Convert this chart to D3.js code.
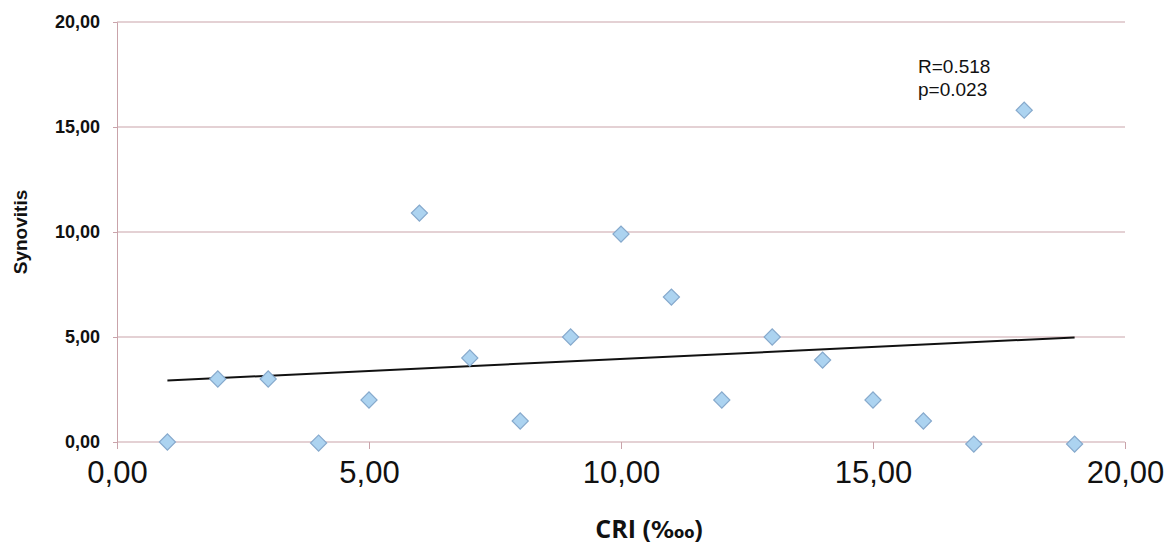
<!DOCTYPE html>
<html lang="en">
<head>
<meta charset="UTF-8">
<title>Synovitis vs CRI</title>
<script src="https://d3js.org/d3.v7.min.js"></script>
<style>
  body { margin: 0; background: #fff; }
  text { font-family: "Liberation Sans", Arial, sans-serif; }
</style>
</head>
<body>
<script>
  // data
  const cri = [1, 2, 3, 4, 5, 6, 7, 8, 9, 10, 11, 12, 13, 14, 15, 16, 17, 18, 19];
  const synovitis = [0, 3.0, 3.0, -0.05, 2.0, 10.9, 4.0, 1.0, 5.0, 9.9, 6.9, 2.0, 5.0, 3.9, 2.0, 1.0, -0.1, 15.8, -0.1];
  const xTicks = [0, 5, 10, 15, 20];
  const yTicks = [0, 5, 10, 15, 20];
  const stats = ["R=0.518", "p=0.023"];

  const width = 1173, height = 550;
  const fmt = d => d3.format(".2f")(d).replace(".", ",");

  const x = d3.scaleLinear().domain([0, 20]).range([117, 1125]);
  const y = d3.scaleLinear().domain([0, 20]).range([442, 22]);

  const svg = d3.select("body").append("svg")
    .attr("width", width).attr("height", height);

  const gridColor = "#c9a3aa";

  // horizontal gridlines + y axis
  const yAxis = svg.append("g")
    .attr("transform", `translate(${x(0)},0)`)
    .call(d3.axisLeft(y).tickValues(yTicks).tickFormat(fmt).tickSize(4).tickPadding(13));
  yAxis.select(".domain").attr("stroke", gridColor);
  yAxis.selectAll(".tick line").attr("stroke", gridColor);
  yAxis.selectAll(".tick text")
    .attr("font-size", 18).attr("font-weight", "bold").attr("fill", "#111");

  svg.append("g").selectAll("line")
    .data(yTicks)
    .join("line")
    .attr("x1", x(0)).attr("x2", x(20))
    .attr("y1", d => y(d)).attr("y2", d => y(d))
    .attr("stroke", gridColor).attr("stroke-width", 1.2);

  // x axis
  const xAxis = svg.append("g")
    .attr("transform", `translate(0,${y(0)})`)
    .call(d3.axisBottom(x).tickValues(xTicks).tickFormat(fmt).tickSize(7).tickPadding(12));
  xAxis.select(".domain").remove();
  xAxis.selectAll(".tick line").attr("stroke", gridColor);
  xAxis.selectAll(".tick text")
    .attr("font-size", 31).attr("fill", "#111");

  // least squares trend line
  const mx = d3.mean(cri), my = d3.mean(synovitis);
  const slope = d3.sum(cri, (d, i) => (d - mx) * (synovitis[i] - my)) / d3.sum(cri, d => (d - mx) * (d - mx));
  const x0 = d3.min(cri), x1 = d3.max(cri);
  svg.append("line")
    .attr("x1", x(x0)).attr("y1", y(my + slope * (x0 - mx)))
    .attr("x2", x(x1)).attr("y2", y(my + slope * (x1 - mx)))
    .attr("stroke", "#111").attr("stroke-width", 2);

  // diamond markers
  const diamond = d3.symbol().type(d3.symbolSquare).size(130);
  svg.append("g").selectAll("path")
    .data(cri)
    .join("path")
    .attr("d", diamond)
    .attr("transform", (d, i) => `translate(${x(d)},${y(synovitis[i])}) rotate(45)`)
    .attr("fill", "#acd3f0")
    .attr("stroke", "#86a9cc")
    .attr("stroke-width", 1.2);

  // stats annotation
  svg.append("g").selectAll("text")
    .data(stats)
    .join("text")
    .attr("x", 918)
    .attr("y", (d, i) => 73 + i * 23)
    .attr("font-size", 19)
    .attr("fill", "#111")
    .text(d => d);

  // axis titles
  svg.append("text")
    .attr("transform", "translate(27,232) rotate(-90)")
    .attr("text-anchor", "middle")
    .attr("font-size", 19)
    .attr("font-weight", "bold")
    .attr("fill", "#111")
    .text("Synovitis");

  const xTitle = svg.append("text")
    .attr("x", 649).attr("y", 538)
    .attr("text-anchor", "middle")
    .attr("font-size", 25)
    .attr("font-weight", "bold")
    .attr("fill", "#111")
    .style("font-family", "'Open Sans', 'Liberation Sans', sans-serif");
  xTitle.append("tspan").text("CRI (");
  xTitle.append("tspan").style("font-family", "'DejaVu Sans'").attr("font-size", 23).text("‱");
  xTitle.append("tspan").text(")");
</script>
</body>
</html>
